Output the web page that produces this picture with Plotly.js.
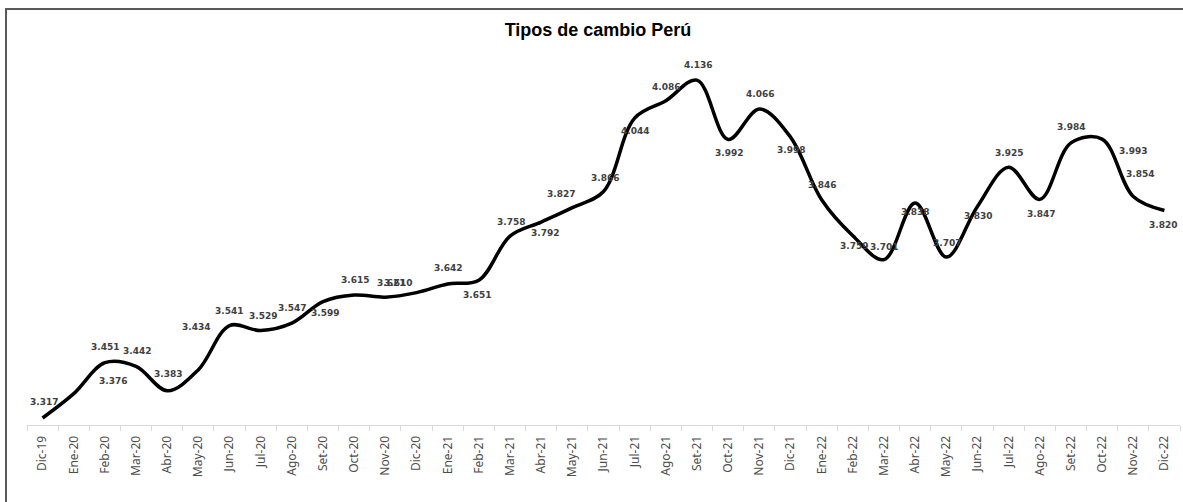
<!DOCTYPE html>
<html>
<head>
<meta charset="utf-8">
<script src="https://cdn.plot.ly/plotly-3.0.1.min.js"></script>
<style>
  html, body { margin: 0; padding: 0; background: #fff; overflow: hidden; }
  #wrap { position: relative; width: 1183px; height: 502px; }
  #chart { position: absolute; left: 0; top: 0; width: 1183px; height: 502px; }
  #frame { position: absolute; left: 5px; top: 8px; width: 1200px; height: 520px;
           border-left: 2px solid #5a5a5a; border-top: 2px solid #5a5a5a; pointer-events: none; }
</style>
</head>
<body>
<div id="wrap">
  <div id="chart"></div>
  <div id="frame"></div>
</div>
<script>
// ---- data ----
const categories = ["Dic-19","Ene-20","Feb-20","Mar-20","Abr-20","May-20","Jun-20","Jul-20","Ago-20","Set-20","Oct-20","Nov-20","Dic-20",
  "Ene-21","Feb-21","Mar-21","Abr-21","May-21","Jun-21","Jul-21","Ago-21","Set-21","Oct-21","Nov-21","Dic-21",
  "Ene-22","Feb-22","Mar-22","Abr-22","May-22","Jun-22","Jul-22","Ago-22","Set-22","Oct-22","Nov-22","Dic-22"];
const tipoCambio = [3.317,3.376,3.451,3.442,3.383,3.434,3.541,3.529,3.547,3.599,3.615,3.610,3.621,
  3.642,3.651,3.758,3.792,3.827,3.866,4.044,4.086,4.136,3.992,4.066,3.998,
  3.846,3.759,3.701,3.838,3.707,3.830,3.925,3.847,3.984,3.993,3.854,3.820];
const chartTitle = "Tipos de cambio Perú";

// ---- label placement (style: pixel offsets from each point) ----
const labelDx = [1,39,0,1,1,-2,-1,2,0,2,1,13,-26,0,-2,1,4,-11,1,0,0,1,1,1,1,0,1,0,0,1,1,0,1,0,31,7,-1];
const labelDy = [-16,-13,-16,-15,-17,-43,-15,-15,-15,11,-15,-14,-10,-16,15,-14,11,-14,-14,13,-14,-15,13,-15,13,-15,10,-13,9,-14,10,-14,15,-16,12,-22,14];

const annotations = categories.map((c, i) => ({
  x: c, y: tipoCambio[i], xref: 'x', yref: 'y',
  text: '<b>' + tipoCambio[i].toFixed(3) + '</b>',
  showarrow: false, xanchor: 'center', yanchor: 'middle',
  xshift: labelDx[i], yshift: -labelDy[i],
  font: { family: 'DejaVu Sans', size: 9, color: '#404040' }
}));

const trace = {
  x: categories, y: tipoCambio, type: 'scatter', mode: 'lines',
  line: { color: '#000000', width: 3.5, shape: 'spline', smoothing: 1 },
  hoverinfo: 'x+y'
};

const layout = {
  width: 1183, height: 502,
  margin: { l: 27, r: 3, t: 62, b: 77, pad: 0 },
  paper_bgcolor: '#ffffff', plot_bgcolor: '#ffffff',
  showlegend: false,
  title: { text: '<b>' + chartTitle + '</b>', x: 0.5055, xref: 'container', xanchor: 'center',
           y: 1 - 30/502, yref: 'container', yanchor: 'middle',
           font: { family: 'Liberation Sans', size: 18, color: '#000000' } },
  xaxis: {
    type: 'category', range: [-0.5, 36.5], tickson: 'boundaries',
    ticks: 'outside', ticklen: 5, tickcolor: '#d9d9d9', tickwidth: 1,
    showline: true, linecolor: '#d9d9d9', linewidth: 1,
    showgrid: false, zeroline: false, tickangle: -90, ticklabelstandoff: 5,
    tickfont: { family: 'Noto Sans', size: 12, color: '#4d4d4d' },
    fixedrange: true
  },
  yaxis: {
    range: [3.30, 4.18], showticklabels: false, showgrid: false, zeroline: false,
    showline: false, ticks: '', fixedrange: true
  },
  annotations: annotations
};

Plotly.newPlot('chart', [trace], layout, { displayModeBar: false, staticPlot: true });
</script>
</body>
</html>
